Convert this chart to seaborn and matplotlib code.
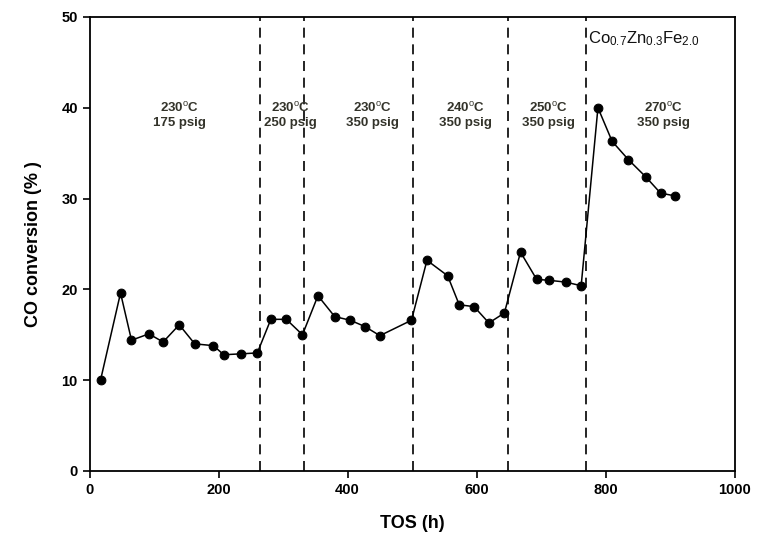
import matplotlib
matplotlib.use("Agg")
import matplotlib.pyplot as plt
import seaborn as sns
import pandas as pd

# Data
tos_h = [17, 48, 65, 92, 114, 139, 163, 192, 208, 235, 260, 281, 305, 330,
         354, 380, 404, 427, 450, 499, 523, 555, 573, 596, 619, 643, 668,
         693, 712, 738, 762, 788, 810, 835, 862, 885, 907]
co_conversion = [10.0, 19.6, 14.4, 15.1, 14.2, 16.1, 14.0, 13.8, 12.8, 12.9,
                 13.0, 16.7, 16.7, 15.0, 19.3, 17.0, 16.6, 15.9, 14.9, 16.6,
                 23.2, 21.5, 18.3, 18.1, 16.3, 17.4, 24.1, 21.1, 21.0, 20.8,
                 20.4, 40.0, 36.3, 34.3, 32.4, 30.6, 30.3]
boundaries = [264, 333, 502, 648, 769]
condition_x = [140, 311, 438, 582, 712, 890]
condition_labels = [r"230$^{\mathrm{o}}$C" + "\n175 psig",
                    r"230$^{\mathrm{o}}$C" + "\n250 psig",
                    r"230$^{\mathrm{o}}$C" + "\n350 psig",
                    r"240$^{\mathrm{o}}$C" + "\n350 psig",
                    r"250$^{\mathrm{o}}$C" + "\n350 psig",
                    r"270$^{\mathrm{o}}$C" + "\n350 psig"]
x_ticks = [0, 200, 400, 600, 800, 1000]
y_ticks = [0, 10, 20, 30, 40, 50]

sns.set_style("ticks")
plt.rcParams['font.family'] = ['Liberation Sans', 'DejaVu Sans']
plt.rcParams['mathtext.fontset'] = 'custom'
plt.rcParams['mathtext.rm'] = 'Liberation Sans'
plt.rcParams['mathtext.it'] = 'Liberation Sans:italic'
plt.rcParams['mathtext.bf'] = 'Liberation Sans:bold'
plt.rcParams['text.color'] = 'black'
plt.rcParams['axes.labelcolor'] = 'black'

df = pd.DataFrame({"TOS": tos_h, "CO": co_conversion})

fig = plt.figure(figsize=(7.59, 5.47), dpi=100)
ax = fig.add_axes([0.118, 0.139, 0.850, 0.830])

sns.lineplot(data=df, x="TOS", y="CO", ax=ax, color="black", linewidth=1.1,
             marker="o", markersize=6.3, markeredgecolor="black",
             markerfacecolor="black")

for b in boundaries:
    ax.axvline(b, color="black", linestyle=(0, (6, 4)), linewidth=1.2)

for xc, lab in zip(condition_x, condition_labels):
    ax.text(xc, 39.2, lab, ha="center", va="center", fontsize=9.5,
            fontweight="bold", color="#33332a", linespacing=1.25)

ax.text(772, 47.6, r"Co$_{0.7}$Zn$_{0.3}$Fe$_{2.0}$", ha="left", va="center",
        fontsize=12, color="#111111")

ax.set_xlim(0, 1000)
ax.set_ylim(0, 50)
ax.set_xticks(x_ticks)
ax.set_yticks(y_ticks)
ax.tick_params(direction="out", length=5, width=1.2, labelsize=10.5,
               colors="black")
for lab in ax.get_xticklabels() + ax.get_yticklabels():
    lab.set_fontweight("bold")
ax.set_xlabel("TOS (h)", fontsize=13, fontweight="bold", labelpad=13)
ax.set_ylabel("CO conversion (% )", fontsize=13, fontweight="bold", labelpad=14)
for s in ax.spines.values():
    s.set_visible(True)
    s.set_linewidth(1.3)
    s.set_color("black")

fig.savefig("out.png", dpi=100)
